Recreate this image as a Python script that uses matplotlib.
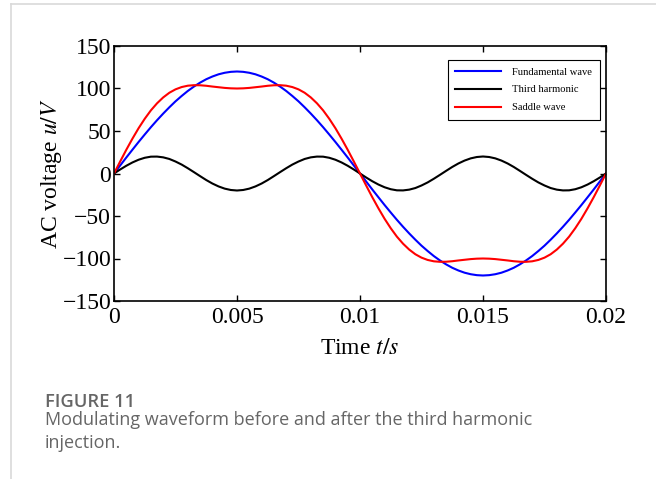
import matplotlib

matplotlib.use("Agg")
import matplotlib.pyplot as plt
from matplotlib.lines import Line2D

plt.rcParams["font.family"] = ["Liberation Serif", "DejaVu Serif"]
plt.rcParams["mathtext.fontset"] = "stix"

# time axis, 0.25 ms steps over one 50 Hz period
time_s = [
    0.0, 0.00025, 0.0005, 0.00075, 0.001, 0.00125, 0.0015, 0.00175, 0.002, 0.00225,
    0.0025, 0.00275, 0.003, 0.00325, 0.0035, 0.00375, 0.004, 0.00425, 0.0045, 0.00475,
    0.005, 0.00525, 0.0055, 0.00575, 0.006, 0.00625, 0.0065, 0.00675, 0.007, 0.00725,
    0.0075, 0.00775, 0.008, 0.00825, 0.0085, 0.00875, 0.009, 0.00925, 0.0095, 0.00975,
    0.01, 0.01025, 0.0105, 0.01075, 0.011, 0.01125, 0.0115, 0.01175, 0.012, 0.01225,
    0.0125, 0.01275, 0.013, 0.01325, 0.0135, 0.01375, 0.014, 0.01425, 0.0145, 0.01475,
    0.015, 0.01525, 0.0155, 0.01575, 0.016, 0.01625, 0.0165, 0.01675, 0.017, 0.01725,
    0.0175, 0.01775, 0.018, 0.01825, 0.0185, 0.01875, 0.019, 0.01925, 0.0195, 0.01975,
    0.02,
]
fundamental = [
    0.0, 9.4, 18.8, 28.0, 37.1, 45.9, 54.5, 62.7, 70.5, 77.9,
    84.9, 91.2, 97.1, 102.3, 106.9, 110.9, 114.1, 116.7, 118.5, 119.6,
    120.0, 119.6, 118.5, 116.7, 114.1, 110.9, 106.9, 102.3, 97.1, 91.2,
    84.9, 77.9, 70.5, 62.7, 54.5, 45.9, 37.1, 28.0, 18.8, 9.4,
    0.0, -9.4, -18.8, -28.0, -37.1, -45.9, -54.5, -62.7, -70.5, -77.9,
    -84.9, -91.2, -97.1, -102.3, -106.9, -110.9, -114.1, -116.7, -118.5, -119.6,
    -120.0, -119.6, -118.5, -116.7, -114.1, -110.9, -106.9, -102.3, -97.1, -91.2,
    -84.9, -77.9, -70.5, -62.7, -54.5, -45.9, -37.1, -28.0, -18.8, -9.4,
    0.0,
]
third_harmonic = [
    0.0, 4.7, 9.1, 13.0, 16.2, 18.5, 19.8, 19.9, 19.0, 17.1,
    14.1, 10.5, 6.2, 1.6, -3.1, -7.7, -11.8, -15.2, -17.8, -19.4,
    -20.0, -19.4, -17.8, -15.2, -11.8, -7.7, -3.1, 1.6, 6.2, 10.5,
    14.1, 17.1, 19.0, 19.9, 19.8, 18.5, 16.2, 13.0, 9.1, 4.7,
    0.0, -4.7, -9.1, -13.0, -16.2, -18.5, -19.8, -19.9, -19.0, -17.1,
    -14.1, -10.5, -6.2, -1.6, 3.1, 7.7, 11.8, 15.2, 17.8, 19.4,
    20.0, 19.4, 17.8, 15.2, 11.8, 7.7, 3.1, -1.6, -6.2, -10.5,
    -14.1, -17.1, -19.0, -19.9, -19.8, -18.5, -16.2, -13.0, -9.1, -4.7,
    0.0,
]
saddle = [
    0.0, 14.1, 27.9, 41.0, 53.3, 64.4, 74.3, 82.6, 89.5, 95.0,
    99.0, 101.7, 103.3, 103.9, 103.8, 103.2, 102.3, 101.5, 100.7, 100.2,
    100.0, 100.2, 100.7, 101.5, 102.3, 103.2, 103.8, 103.9, 103.3, 101.7,
    99.0, 95.0, 89.5, 82.6, 74.3, 64.4, 53.3, 41.0, 27.9, 14.1,
    0.0, -14.1, -27.9, -41.0, -53.3, -64.4, -74.3, -82.6, -89.5, -95.0,
    -99.0, -101.7, -103.3, -103.9, -103.8, -103.2, -102.3, -101.5, -100.7, -100.2,
    -100.0, -100.2, -100.7, -101.5, -102.3, -103.2, -103.8, -103.9, -103.3, -101.7,
    -99.0, -95.0, -89.5, -82.6, -74.3, -64.4, -53.3, -41.0, -27.9, -14.1,
    0.0,
]
x_ticks = [0, 0.005, 0.01, 0.015, 0.02]
x_tick_labels = ["0", "0.005", "0.01", "0.015", "0.02"]
y_ticks = [-150, -100, -50, 0, 50, 100, 150]
series_names = ["Fundamental wave", "Third harmonic", "Saddle wave"]
series_colors = ["#0000FF", "#000000", "#FF0000"]

fig = plt.figure(figsize=(6.56, 4.79), dpi=100)

# card border of the figure page
fig.add_artist(Line2D([11 / 656, 11 / 656], [0, 1 - 4 / 479], color="#d9d9d9", lw=1.2))
fig.add_artist(Line2D([11 / 656, 1], [1 - 4 / 479, 1 - 4 / 479], color="#d9d9d9", lw=1.2))

ax = fig.add_axes([114 / 656, 1 - 301 / 479, 492 / 656, 255 / 479])
for values, name, color in zip([fundamental, third_harmonic, saddle], series_names, series_colors):
    ax.plot(time_s, values, color=color, linewidth=1.5, label=name)

ax.set_xlim(0, 0.02)
ax.set_ylim(-150, 150)
ax.set_xticks(x_ticks)
ax.set_xticklabels(x_tick_labels)
ax.set_yticks(y_ticks)
ax.tick_params(direction="in", top=True, right=True, length=4, width=1.0, labelsize=17, pad=2)
ax.tick_params(axis="x", pad=4.5)
for spine in ax.spines.values():
    spine.set_linewidth(1.2)

ax.set_xlabel("Time $t/s$", fontsize=17, labelpad=7)
ax.set_ylabel("AC voltage $u/V$", fontsize=17, labelpad=-1)

leg = ax.legend(
    loc="upper right",
    bbox_to_anchor=(0.987, 0.946),
    fontsize=7.6,
    frameon=True,
    fancybox=False,
    edgecolor="black",
    framealpha=1,
    handlelength=4.3,
    handletextpad=1.1,
    borderpad=0.7,
    borderaxespad=0,
    labelspacing=0.8,
)
leg.get_frame().set_linewidth(0.8)

fig.text(45 / 656, 1 - 402 / 479, "FIGURE 11", fontsize=13.2, fontweight="semibold",
         color="#666666", family="Open Sans", va="center")
fig.text(45 / 656, 1 - 420 / 479, "Modulating waveform before and after the third harmonic",
         fontsize=13, color="#666666", family="Open Sans", va="center")
fig.text(45 / 656, 1 - 443 / 479, "injection.",
         fontsize=13, color="#666666", family="Open Sans", va="center")

fig.savefig("out.png", dpi=100)
